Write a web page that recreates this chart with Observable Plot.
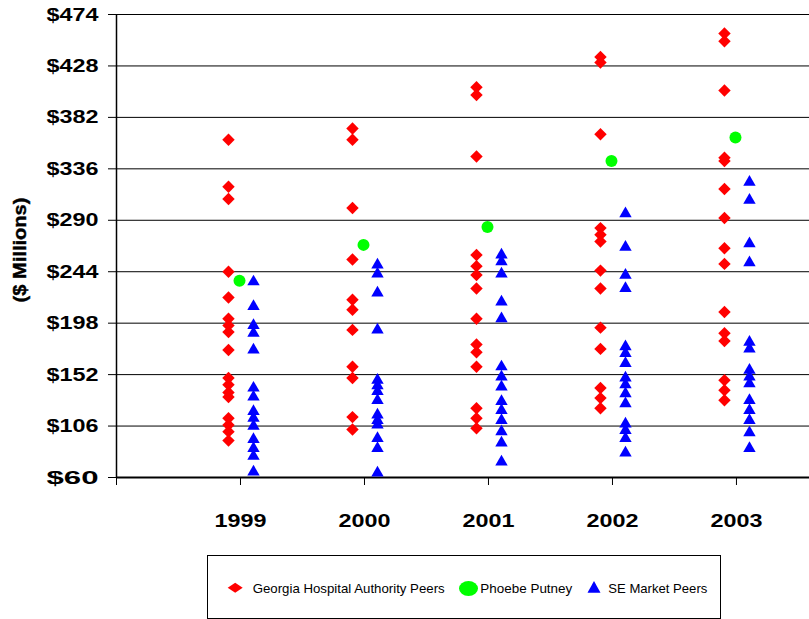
<!DOCTYPE html>
<html>
<head>
<meta charset="utf-8">
<script src="https://cdn.jsdelivr.net/npm/d3@7"></script>
<script src="https://cdn.jsdelivr.net/npm/@observablehq/plot@0.6"></script>
<style>
  html, body { margin: 0; padding: 0; background: #fff; }
  #wrap { position: relative; width: 809px; height: 619px; overflow: hidden; font-family: "Liberation Sans", Arial, sans-serif; }
  #legend { position: absolute; left: 207px; top: 555px; width: 514px; height: 64px; box-sizing: border-box; border: 1.5px solid #000; background: #fff; }
</style>
</head>
<body>
<div id="wrap">
  <div id="chart"></div>
  <div id="legend"></div>
</div>
<script>
// Net revenue by year ($ millions) for each peer group
const years = [1999, 2000, 2001, 2002, 2003];

const georgiaPeers = [
  [362, 320, 309, 244, 221, 202, 196, 190, 174, 149, 143, 136, 132, 113, 107, 101, 93],
  [372, 362, 301, 255, 219, 210, 192, 159, 149, 114, 103],
  [409, 402, 347, 259, 249, 241, 229, 202, 179, 172, 159, 122, 113, 104],
  [436, 431, 367, 283, 277, 271, 245, 229, 194, 175, 140, 131, 122],
  [457, 450, 406, 346, 343, 318, 292, 265, 251, 208, 189, 182, 147, 138, 129]
];

const phoebePutney = [236, 268, 284, 343, 364];

const seMarketPeers = [
  [235, 213, 196, 189, 174, 140, 132, 119, 113, 106, 94, 86, 79, 65],
  [250, 242, 225, 192, 147, 142, 137, 129, 116, 111, 107, 95, 86, 64],
  [259, 253, 242, 217, 202, 159, 150, 141, 128, 120, 111, 101, 91, 74],
  [296, 266, 241, 229, 177, 171, 162, 149, 143, 135, 126, 108, 102, 95, 82],
  [324, 308, 269, 252, 181, 175, 156, 150, 144, 129, 120, 111, 100, 86]
];

const yTicks = [60, 106, 152, 198, 244, 290, 336, 382, 428, 474];
const xTicks = [1998, 1999, 2000, 2001, 2002, 2003];
const seriesNames = ["Georgia Hospital Authority Peers", "Phoebe Putney", "SE Market Peers"];

const georgiaRows = years.flatMap((year, i) => georgiaPeers[i].map(value => ({year, value})));
const phoebeRows = years.map((year, i) => ({year, value: phoebePutney[i]}));
const seRows = years.flatMap((year, i) => seMarketPeers[i].map(value => ({year, value})));

const font = "'Liberation Sans', Arial, sans-serif";

const chart = Plot.plot({
  width: 809,
  height: 552,
  marginLeft: 116,
  marginRight: 0,
  marginTop: 14,
  marginBottom: 75,
  style: {fontFamily: font, color: "#000", background: "#fff", overflow: "hidden"},
  x: {domain: [1998, 2003.589]},
  y: {domain: [60, 474]},
  marks: [
    Plot.gridY(yTicks, {stroke: "#000", strokeOpacity: 1, strokeWidth: 1}),
    Plot.ruleX([1998], {stroke: "#000", strokeWidth: 1.5}),
    Plot.ruleY([60], {stroke: "#000", strokeWidth: 2}),
    Plot.axisY(yTicks, {
      tickSize: 8, tickPadding: 10, tickFormat: d => "$" + d,
      fontSize: 19, fontWeight: "bold", label: null, stroke: "#000"
    }),
    Plot.axisX(xTicks, {
      tickSize: 8, tickPadding: 28, tickFormat: d => d === 1998 ? "" : String(d),
      fontSize: 19, fontWeight: "bold", label: null, stroke: "#000"
    }),
    Plot.text(["($ Millions)"], {
      frameAnchor: "left", textAnchor: "middle", dx: -97, dy: 4, rotate: -90,
      fontSize: 19, fontWeight: "bold", fill: "#000", stroke: "#000", strokeWidth: 0.4
    }),
    Plot.dot(georgiaRows, {x: "year", y: "value", symbol: "diamond2", r: 5.6, fill: "#ff0000", dx: -12}),
    Plot.dot(seRows, {x: "year", y: "value", symbol: "triangle", r: 4.6, fill: "#0000ff", dx: 13}),
    Plot.dot(phoebeRows, {x: "year", y: "value", symbol: "circle", r: 6, fill: "#00ff00", dx: -1})
  ]
});
document.getElementById("chart").append(chart);

// Widen the bold axis numerals
d3.select(chart).selectAll('g[aria-label="y-axis tick label"] text, g[aria-label="x-axis tick label"] text')
  .each(function() {
    if (!this.textContent) return;
    this.setAttribute("textLength", 52);
    this.setAttribute("lengthAdjust", "spacingAndGlyphs");
  });
d3.select(chart).selectAll('g[aria-label="text"] text')
  .attr("textLength", 105).attr("lengthAdjust", "spacingAndGlyphs");

// Legend box
const lg = d3.select("#legend").append("svg")
  .attr("width", 511).attr("height", 61)
  .style("display", "block")
  .style("font-family", font);

lg.append("path")
  .attr("d", "M19.7,31.7 L27.2,26.7 L34.7,31.7 L27.2,36.7 Z")
  .attr("fill", "#ff0000");
lg.append("ellipse")
  .attr("cx", 260.5).attr("cy", 32.5).attr("rx", 9.5).attr("ry", 7.5)
  .attr("fill", "#00ff00");
lg.append("path")
  .attr("d", "M386,25 L392.5,36.7 L379.5,36.7 Z")
  .attr("fill", "#0000ff");

const legendText = [
  {x: 44.7, w: 192},
  {x: 272.3, w: 92},
  {x: 400.3, w: 99}
];
lg.selectAll("text.item")
  .data(seriesNames)
  .join("text")
  .attr("class", "item")
  .attr("x", (d, i) => legendText[i].x)
  .attr("y", 36.5)
  .attr("font-size", 13.5)
  .attr("fill", "#000")
  .attr("textLength", (d, i) => legendText[i].w)
  .attr("lengthAdjust", "spacingAndGlyphs")
  .text(d => d);
</script>
</body>
</html>
